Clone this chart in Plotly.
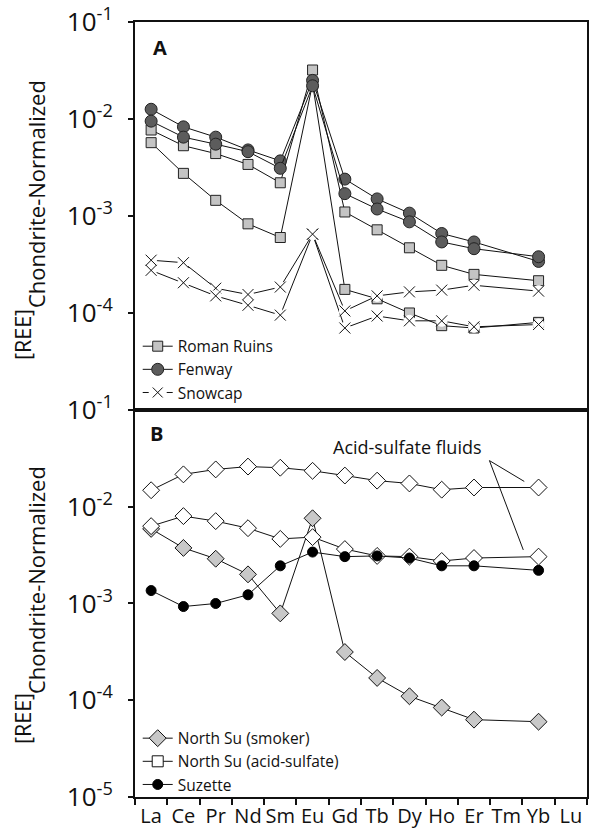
import plotly.graph_objects as go

# Rare earth elements (x axis categories)
ELEMENTS = ["La", "Ce", "Pr", "Nd", "Sm", "Eu", "Gd", "Tb", "Dy", "Ho", "Er", "Tm", "Yb", "Lu"]

# Panel A: chondrite-normalized REE concentrations
roman_ruins_1 = [7.7e-3, 5.3e-3, 4.4e-3, 3.4e-3, 2.2e-3, 3.2e-2, 1.1e-3, 7.2e-4, 4.7e-4, 3.1e-4, 2.5e-4, None, 2.15e-4, None]
roman_ruins_2 = [5.7e-3, 2.75e-3, 1.45e-3, 8.3e-4, 6.0e-4, 2.3e-2, 1.75e-4, 1.4e-4, 1.0e-4, 7.4e-5, 7.0e-5, None, 8.0e-5, None]
fenway_1 = [1.26e-2, 8.3e-3, 6.5e-3, 4.8e-3, 3.7e-3, 2.5e-2, 2.4e-3, 1.5e-3, 1.07e-3, 6.6e-4, 5.4e-4, None, 3.4e-4, None]
fenway_2 = [9.5e-3, 6.5e-3, 5.5e-3, 4.6e-3, 3.1e-3, 2.2e-2, 1.7e-3, 1.18e-3, 8.7e-4, 5.4e-4, 4.6e-4, None, 3.8e-4, None]
snowcap_1 = [3.5e-4, 3.3e-4, 1.8e-4, 1.55e-4, 1.85e-4, 6.5e-4, 1.05e-4, 1.5e-4, 1.65e-4, 1.72e-4, 1.93e-4, None, 1.68e-4, None]
snowcap_2 = [2.75e-4, 2.05e-4, 1.5e-4, 1.2e-4, 9.5e-5, 6.5e-4, 7.0e-5, 9.3e-5, 8.3e-5, 8.3e-5, 7.2e-5, None, 7.6e-5, None]

# Panel B
north_su_smoker = [5.9e-3, 3.75e-3, 2.9e-3, 2.0e-3, 7.9e-4, 7.6e-3, 3.15e-4, 1.7e-4, 1.1e-4, 8.4e-5, 6.3e-5, None, 6.0e-5, None]
north_su_acid_1 = [1.48e-2, 2.16e-2, 2.43e-2, 2.6e-2, 2.53e-2, 2.35e-2, 2.1e-2, 1.86e-2, 1.74e-2, 1.5e-2, 1.58e-2, None, 1.58e-2, None]
north_su_acid_2 = [6.3e-3, 8.0e-3, 7.1e-3, 6.0e-3, 4.65e-3, 4.85e-3, 3.65e-3, 3.1e-3, 3.05e-3, 2.75e-3, 2.95e-3, None, 3.05e-3, None]
suzette = [1.36e-3, 9.3e-4, 1.0e-3, 1.23e-3, 2.45e-3, 3.4e-3, 3.05e-3, 3.1e-3, 2.95e-3, 2.45e-3, 2.45e-3, None, 2.2e-3, None]

# Y tick labels
TICK_VALS_A = [1e-1, 1e-2, 1e-3, 1e-4]
TICK_TEXT_A = ["10<sup>-1</sup>", "10<sup>-2</sup>", "10<sup>-3</sup>", "10<sup>-4</sup>"]
TICK_VALS_B = [1e-1, 1e-2, 1e-3, 1e-4, 1e-5]
TICK_TEXT_B = ["10<sup>-1</sup>", "10<sup>-2</sup>", "10<sup>-3</sup>", "10<sup>-4</sup>", "10<sup>-5</sup>"]

FONT = "Open Sans"
INK = "#111111"
LINE = dict(color=INK, width=1)

fig = go.Figure()


def series(y, xa, ya, symbol, size, fill, name=None, legend=None, mode="lines+markers", line=LINE, edge="#222222"):
    fig.add_trace(go.Scatter(
        x=ELEMENTS, y=y, xaxis=xa, yaxis=ya, mode=mode, connectgaps=True,
        line=line,
        marker=dict(symbol=symbol, size=size, color=fill, line=dict(color=edge, width=1)),
        name=name, showlegend=name is not None, legend=legend, hoverinfo="skip",
    ))


# ---- Panel A ----
series(roman_ruins_1, "x", "y", "square", 10, "#c4c4c4", "Roman Ruins", "legend")
series(roman_ruins_2, "x", "y", "square", 10, "#c4c4c4")
series(fenway_1, "x", "y", "circle", 12, "#5c5c5c", "Fenway", "legend")
series(fenway_2, "x", "y", "circle", 12, "#5c5c5c")
for sc in (snowcap_1, snowcap_2):
    series(sc, "x", "y", "circle", 10, "white", mode="lines")
for sc in (snowcap_1, snowcap_2):
    # white disc behind each cross breaks the connecting lines
    series(sc, "x", "y", "circle", 11, "white", mode="markers", edge="white")
    series(sc, "x", "y", "x-thin", 11, INK, mode="markers", edge=INK)
fig.add_trace(go.Scatter(
    x=[None], y=[None], xaxis="x", yaxis="y", mode="lines+markers",
    line=dict(color=INK, width=1, dash="6px,18px"),
    marker=dict(symbol="x-thin", size=10, line=dict(color=INK, width=1)),
    name="Snowcap", legend="legend", hoverinfo="skip",
))

# ---- Panel B ----
series(north_su_smoker, "x2", "y2", "diamond", 13, "#c8c8c8", "North Su (smoker)", "legend2", edge=INK)
series(north_su_acid_1, "x2", "y2", "diamond", 13, "white", edge=INK)
series(north_su_acid_2, "x2", "y2", "diamond", 13, "white", edge=INK)
fig.add_trace(go.Scatter(
    x=[None], y=[None], xaxis="x2", yaxis="y2", mode="lines+markers",
    line=LINE, marker=dict(symbol="square", size=11, color="white", line=dict(color=INK, width=1)),
    name="North Su (acid-sulfate)", legend="legend2", hoverinfo="skip",
))
series(suzette, "x2", "y2", "circle", 10, "#000000", "Suzette", "legend2", edge="#000000")

common_x = dict(
    type="category", categoryorder="array", categoryarray=ELEMENTS,
    range=[-0.5, len(ELEMENTS) - 0.5], showline=True, linewidth=2, linecolor=INK,
    mirror=True, showgrid=False, zeroline=False, fixedrange=True,
)
common_y = dict(
    type="log", range=[-5, -1], showline=True, linewidth=2, linecolor=INK,
    mirror=True, showgrid=False, zeroline=False, ticks="outside", ticklen=5,
    tickwidth=1.5, tickcolor=INK, tickfont=dict(family=FONT, size=26, color=INK),
    ticklabelstandoff=10,
)


# paper-coordinate helpers for labels placed by pixel position within the 590x838 canvas
def px_x(p):
    return (p - 135) / 454


def px_y(p):
    return (797 - p) / 781


annotations = [
    dict(text="<b>A</b>", x=px_x(160), y=px_y(42), font=dict(family=FONT, size=20, color=INK)),
    dict(text="<b>B</b>", x=px_x(157), y=px_y(431), font=dict(family=FONT, size=20, color=INK)),
    dict(text="Acid-sulfate fluids", x=px_x(409), y=px_y(444), font=dict(family=FONT, size=18, color=INK)),
]
# rotated y-axis title "[REE]" with subscript "Chondrite-Normalized", one per panel
for ree_mid, sub_mid in ((331, 189), (718, 578)):
    annotations.append(dict(text="[REE]", x=px_x(22), y=px_y(ree_mid), textangle=-90,
                            font=dict(family=FONT, size=21.5, color=INK)))
    annotations.append(dict(text="Chondrite-Normalized", x=px_x(35), y=px_y(sub_mid),
                            textangle=-90, font=dict(family=FONT, size=22, color=INK)))
for a in annotations:
    a.update(xref="paper", yref="paper", xanchor="center", yanchor="middle", showarrow=False)

fig.update_layout(
    width=590, height=838,
    margin=dict(l=135, r=1, t=16, b=41),
    paper_bgcolor="white", plot_bgcolor="white",
    font=dict(family=FONT, color=INK),
    xaxis=dict(common_x, domain=[0, 1], anchor="y", showticklabels=False, ticks=""),
    yaxis=dict(common_y, domain=[0.4994, 1], anchor="x", tickvals=TICK_VALS_A, ticktext=TICK_TEXT_A),
    xaxis2=dict(common_x, domain=[0, 1], anchor="y2", ticks="outside", tickson="boundaries",
                ticklen=6, tickwidth=1.5, tickcolor=INK, tickangle=0,
                tickfont=dict(family=FONT, size=20, color=INK)),
    yaxis2=dict(common_y, domain=[0, 0.4994], anchor="x2", tickvals=TICK_VALS_B, ticktext=TICK_TEXT_B),
    legend=dict(x=0.006, xanchor="left", y=px_y(326), yanchor="top", bgcolor="rgba(0,0,0,0)",
                font=dict(family=FONT, size=15.5, color=INK), itemwidth=30, tracegroupgap=0),
    legend2=dict(x=0.006, xanchor="left", y=px_y(721), yanchor="top", bgcolor="rgba(0,0,0,0)",
                 font=dict(family=FONT, size=15.5, color=INK), itemwidth=30, tracegroupgap=0),
    showlegend=True,
    annotations=annotations,
    shapes=[
        # leader lines from "Acid-sulfate fluids" to the two acid-sulfate profiles
        dict(type="line", xref="paper", yref="paper", x0=px_x(491), y0=px_y(458),
             x1=px_x(526), y1=px_y(479), line=dict(color=INK, width=1)),
        dict(type="line", xref="paper", yref="paper", x0=px_x(491), y0=px_y(458),
             x1=px_x(525), y1=px_y(548), line=dict(color=INK, width=1)),
    ],
)

fig.write_html("out.html")
